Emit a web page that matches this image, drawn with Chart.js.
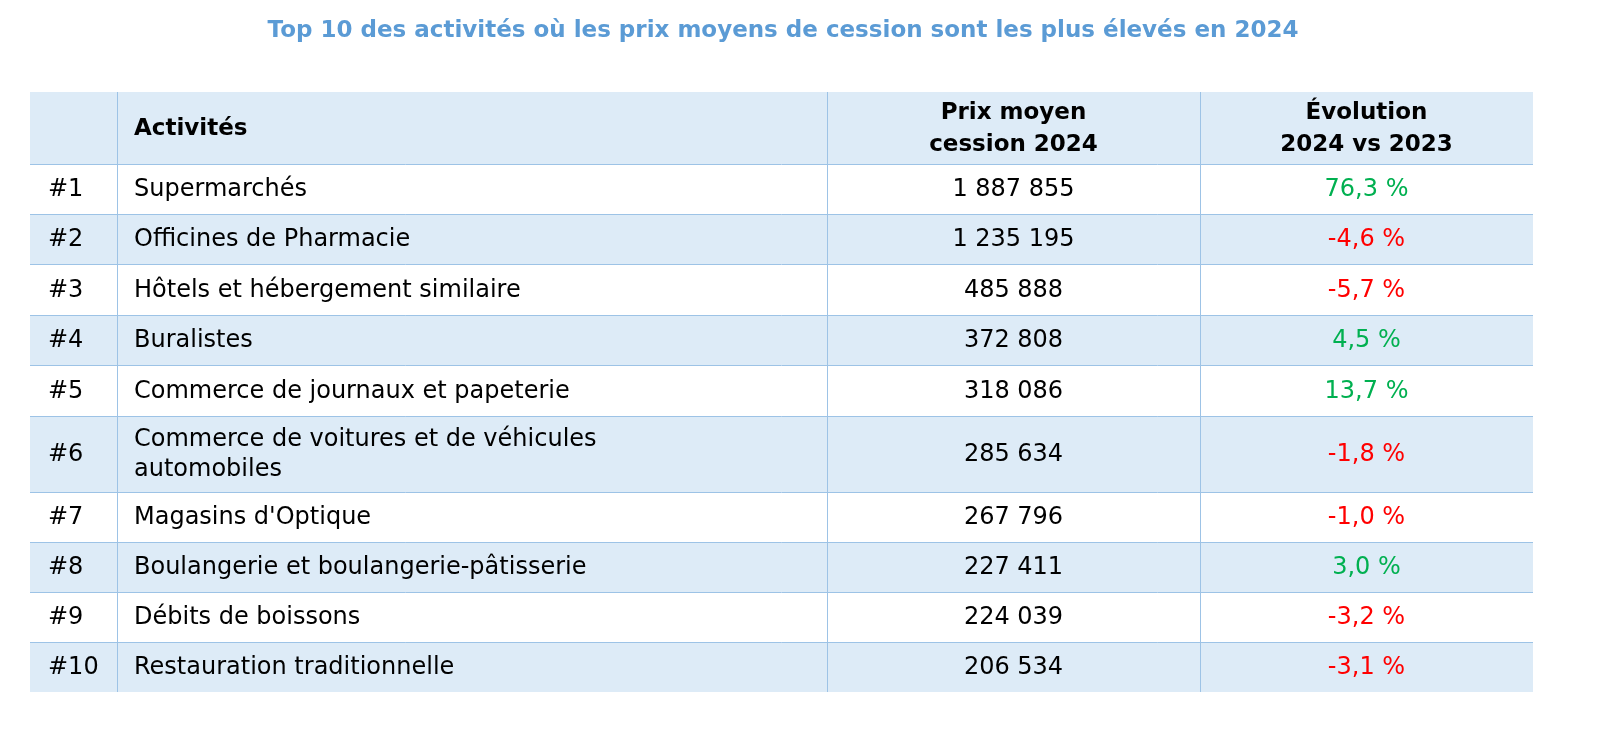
<!DOCTYPE html>
<html>
<head>
<meta charset="utf-8">
<script src="https://cdn.jsdelivr.net/npm/chart.js@4"></script>
<style>
  html, body { margin: 0; background: #fff; overflow: hidden; }
  canvas { display: block; }
</style>
</head>
<body>
<canvas id="tableChart" width="1607" height="739"></canvas>
<script>
const titre = 'Top 10 des activités où les prix moyens de cession sont les plus élevés en 2024';
const rangs = ['#1', '#2', '#3', '#4', '#5', '#6', '#7', '#8', '#9', '#10'];
const activites = [
    ['Supermarchés'],
    ['Officines de Pharmacie'],
    ['Hôtels et hébergement similaire'],
    ['Buralistes'],
    ['Commerce de journaux et papeterie'],
    ['Commerce de voitures et de véhicules', 'automobiles'],
    ["Magasins d'Optique"],
    ['Boulangerie et boulangerie-pâtisserie'],
    ['Débits de boissons'],
    ['Restauration traditionnelle']
];
const prixMoyens = [1887855, 1235195, 485888, 372808, 318086, 285634, 267796, 227411, 224039, 206534];
const evolutions = [76.3, -4.6, -5.7, 4.5, 13.7, -1.8, -1.0, 3.0, -3.2, -3.1];
const entetes = [[''], ['Activités'], ['Prix moyen', 'cession 2024'], ['Évolution', '2024 vs 2023']];

const FONT = '"DejaVu Sans", sans-serif';
const colBords = [0, 87, 797, 1170, 1503]; // x units
const hauteurs = [72].concat(activites.map(a => a.length > 1 ? 76 : 50));
hauteurs[3] = 51; hauteurs[5] = 51;

function fmtPrix(v) {
    return String(v).replace(/\B(?=(\d{3})+(?!\d))/g, ' ');
}
function fmtEvo(v) {
    return v.toFixed(1).replace('.', ',') + ' %';
}

const tablePlugin = {
    id: 'tablePlugin',
    afterDraw(chart) {
        const ctx = chart.ctx;
        const xs = chart.scales.x, ys = chart.scales.y;
        const X = v => xs.getPixelForValue(v);
        const Y = v => ys.getPixelForValue(v);

        ctx.save();
        ctx.fillStyle = '#5B9BD5';
        ctx.font = 'bold 23px ' + FONT;
        ctx.textAlign = 'center';
        ctx.textBaseline = 'middle';
        ctx.fillText(titre, 783, 31);

        let top = 0;
        for (let r = 0; r < hauteurs.length; r++) {
            const h = hauteurs[r];
            const y0 = Y(top), y1 = Y(top + h);
            const cy = (y0 + y1) / 2;
            if (r === 0 || r % 2 === 0) {
                ctx.fillStyle = '#DDEBF7';
                ctx.fillRect(X(0), y0, X(1503) - X(0), y1 - y0);
            }
            let cells;
            if (r === 0) {
                cells = entetes;
            } else {
                const i = r - 1;
                cells = [[rangs[i]], activites[i], [fmtPrix(prixMoyens[i])], [fmtEvo(evolutions[i])]];
            }
            for (let c = 0; c < 4; c++) {
                const lines = cells[c];
                const lh = r === 0 ? 32 : 30;
                ctx.font = (r === 0 ? 'bold 23px ' : '24px ') + FONT;
                ctx.fillStyle = '#000';
                if (r > 0 && c === 3) ctx.fillStyle = evolutions[r - 1] >= 0 ? '#00B050' : '#FF0000';
                let tx;
                if (c <= 1) {
                    ctx.textAlign = 'left';
                    tx = X(colBords[c]) + (c === 0 ? 18 : 17);
                } else {
                    ctx.textAlign = 'center';
                    tx = (X(colBords[c]) + X(colBords[c + 1])) / 2;
                }
                lines.forEach((t, k) => {
                    ctx.fillText(t, tx, cy + (k - (lines.length - 1) / 2) * lh + 1);
                });
            }
            top += h;
        }

        ctx.strokeStyle = '#9DC3E6';
        ctx.lineWidth = 1;
        top = 0;
        for (let r = 0; r <= hauteurs.length; r++) {
            if (r > 0 && r < hauteurs.length) {
                const y = Math.round(Y(top)) + 0.5;
                ctx.beginPath(); ctx.moveTo(X(0), y); ctx.lineTo(X(1503), y); ctx.stroke();
            }
            top += hauteurs[r] || 0;
        }
        for (let c = 1; c < 4; c++) {
            const x = Math.round(X(colBords[c])) + 0.5;
            ctx.beginPath(); ctx.moveTo(x, Y(0)); ctx.lineTo(x, Y(600)); ctx.stroke();
        }
        ctx.restore();
    }
};

new Chart(document.getElementById('tableChart').getContext('2d'), {
    type: 'scatter',
    data: { datasets: [{ data: [], pointRadius: 0 }] },
    options: {
        responsive: false,
        animation: false,
        devicePixelRatio: 1,
        layout: { padding: { left: 30, right: 74, top: 92, bottom: 47 } },
        plugins: { legend: { display: false }, tooltip: { enabled: false } },
        scales: {
            x: { type: 'linear', min: 0, max: 1503, display: false },
            y: { type: 'linear', min: 0, max: 600, reverse: true, display: false }
        }
    },
    plugins: [tablePlugin]
});
</script>
</body>
</html>
